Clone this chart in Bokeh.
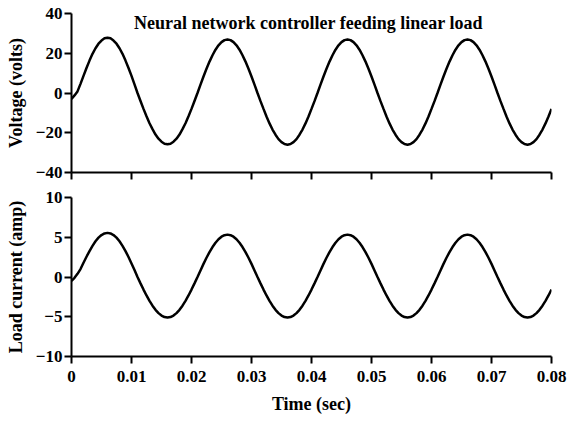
from bokeh.plotting import figure
from bokeh.layouts import column
from bokeh.models import FixedTicker, Label, ColumnDataSource
from bokeh.embed import file_html
from bokeh.resources import INLINE

time_s = [round(i * 0.0005, 4) for i in range(161)]

voltage = [
    -3.0, -1.2, 0.8, 4.6, 8.6, 12.6, 16.3, 19.7, 22.5, 24.8,
    26.4, 27.5, 27.8, 27.5, 26.4, 24.8, 22.5, 19.7, 16.3, 12.6,
    8.6, 4.3, 0.0, -4.0, -8.0, -11.7, -15.2, -18.2, -20.9, -23.0,
    -24.5, -25.5, -25.8, -25.5, -24.5, -23.0, -20.9, -18.2, -15.2, -11.7,
    -8.0, -4.0, 0.0, 4.2, 8.3, 12.2, 15.8, 19.0, 21.8, 24.0,
    25.6, 26.6, 26.9, 26.6, 25.6, 24.0, 21.8, 19.0, 15.8, 12.2,
    8.3, 4.2, 0.0, -4.1, -8.0, -11.8, -15.3, -18.4, -21.0, -23.2,
    -24.7, -25.7, -26.0, -25.7, -24.7, -23.2, -21.0, -18.4, -15.3, -11.8,
    -8.0, -4.1, 0.0, 4.2, 8.3, 12.2, 15.8, 19.0, 21.8, 24.0,
    25.6, 26.6, 26.9, 26.6, 25.6, 24.0, 21.8, 19.0, 15.8, 12.2,
    8.3, 4.2, 0.0, -4.1, -8.0, -11.8, -15.3, -18.4, -21.0, -23.2,
    -24.7, -25.7, -26.0, -25.7, -24.7, -23.2, -21.0, -18.4, -15.3, -11.8,
    -8.0, -4.1, 0.0, 4.2, 8.3, 12.2, 15.8, 19.0, 21.8, 24.0,
    25.6, 26.6, 26.9, 26.6, 25.6, 24.0, 21.8, 19.0, 15.8, 12.2,
    8.3, 4.2, 0.0, -4.1, -8.0, -11.8, -15.3, -18.4, -21.0, -23.2,
    -24.7, -25.7, -26.0, -25.7, -24.7, -23.2, -21.0, -18.4, -15.3, -11.8,
    -8.0,
]

current = [
    -0.5, -0.1, 0.4, 1.0, 1.8, 2.55, 3.26, 3.92, 4.49, 4.95,
    5.28, 5.48, 5.55, 5.48, 5.28, 4.95, 4.49, 3.92, 3.26, 2.52,
    1.71, 0.87, 0.0, -0.80, -1.58, -2.32, -3.0, -3.61, -4.13, -4.54,
    -4.85, -5.04, -5.1, -5.04, -4.85, -4.54, -4.13, -3.61, -3.0, -2.32,
    -1.58, -0.80, 0.0, 0.83, 1.65, 2.42, 3.13, 3.77, 4.31, 4.75,
    5.07, 5.26, 5.33, 5.26, 5.07, 4.75, 4.31, 3.77, 3.13, 2.42,
    1.65, 0.83, 0.0, -0.80, -1.58, -2.32, -3.0, -3.61, -4.13, -4.54,
    -4.85, -5.04, -5.1, -5.04, -4.85, -4.54, -4.13, -3.61, -3.0, -2.32,
    -1.58, -0.80, 0.0, 0.83, 1.65, 2.42, 3.13, 3.77, 4.31, 4.75,
    5.07, 5.26, 5.33, 5.26, 5.07, 4.75, 4.31, 3.77, 3.13, 2.42,
    1.65, 0.83, 0.0, -0.80, -1.58, -2.32, -3.0, -3.61, -4.13, -4.54,
    -4.85, -5.04, -5.1, -5.04, -4.85, -4.54, -4.13, -3.61, -3.0, -2.32,
    -1.58, -0.80, 0.0, 0.83, 1.65, 2.42, 3.13, 3.77, 4.31, 4.75,
    5.07, 5.26, 5.33, 5.26, 5.07, 4.75, 4.31, 3.77, 3.13, 2.42,
    1.65, 0.83, 0.0, -0.80, -1.58, -2.32, -3.0, -3.61, -4.13, -4.54,
    -4.85, -5.04, -5.1, -5.04, -4.85, -4.54, -4.13, -3.61, -3.0, -2.32,
    -1.58,
]

x_ticks = [0, 0.01, 0.02, 0.03, 0.04, 0.05, 0.06, 0.07, 0.08]
x_tick_labels = ["0", "0.01", "0.02", "0.03", "0.04", "0.05", "0.06", "0.07", "0.08"]
v_ticks = [-40, -20, 0, 20, 40]
i_ticks = [-10, -5, 0, 5, 10]

title_text = "Neural network controller feeding linear load"
v_label = "Voltage (volts)"
i_label = "Load current (amp)"
x_label = "Time (sec)"

FONT = "Liberation Serif"
FS = "18px"
TICK_FS = "17px"

src = ColumnDataSource(dict(t=time_s, v=voltage, i=current))


def style(p, yticks):
    p.outline_line_color = None
    p.grid.visible = False
    p.background_fill_color = "white"
    p.border_fill_color = "white"
    for ax in (p.xaxis[0], p.yaxis[0]):
        ax.axis_line_width = 2
        ax.axis_line_color = "black"
        ax.major_tick_line_width = 2
        ax.major_tick_line_color = "black"
        ax.major_tick_out = 7
        ax.major_tick_in = 0
        ax.minor_tick_line_color = None
        ax.major_label_text_font = FONT
        ax.major_label_text_font_size = TICK_FS
        ax.major_label_text_font_style = "bold"
        ax.major_label_text_color = "black"
        ax.axis_label_text_font = FONT
        ax.axis_label_text_font_size = FS
        ax.axis_label_text_font_style = "bold"
        ax.axis_label_text_color = "black"
    p.xaxis[0].ticker = FixedTicker(ticks=x_ticks)
    p.xaxis[0].major_label_overrides = {t: s for t, s in zip(x_ticks, x_tick_labels)}
    p.yaxis[0].ticker = FixedTicker(ticks=yticks)
    p.yaxis[0].major_label_standoff = 2
    p.yaxis[0].axis_label_standoff = 7


p1 = figure(frame_width=480, frame_height=159, x_range=(0, 0.08), y_range=(-40, 40),
            min_border_left=71, min_border_right=16, min_border_top=13, min_border_bottom=12,
            toolbar_location=None, output_backend="svg")
p1.line("t", "v", source=src, line_color="black", line_width=2.5)
style(p1, v_ticks)
p1.yaxis[0].axis_label = v_label
# top panel's time axis carries tick marks only
p1.xaxis[0].major_label_overrides = {t: "" for t in x_ticks}
p1.xaxis[0].major_label_standoff = 0
p1.add_layout(Label(x=0.04, y=40, text=title_text, text_align="center", text_baseline="top",
                    x_offset=-3, y_offset=1, text_font=FONT, text_font_size=FS,
                    text_font_style="bold", text_color="black"))

p2 = figure(frame_width=480, frame_height=159, x_range=p1.x_range, y_range=(-10, 10),
            min_border_left=71, min_border_right=16, min_border_top=13, min_border_bottom=8,
            toolbar_location=None, output_backend="svg")
p2.line("t", "i", source=src, line_color="black", line_width=2.5)
style(p2, i_ticks)
p2.yaxis[0].axis_label = i_label
p2.xaxis[0].axis_label = x_label
p2.xaxis[0].major_label_standoff = 7
p2.xaxis[0].axis_label_standoff = 9

layout = column(p1, p2, spacing=0)
open("out.html", "w").write(file_html(layout, INLINE))
